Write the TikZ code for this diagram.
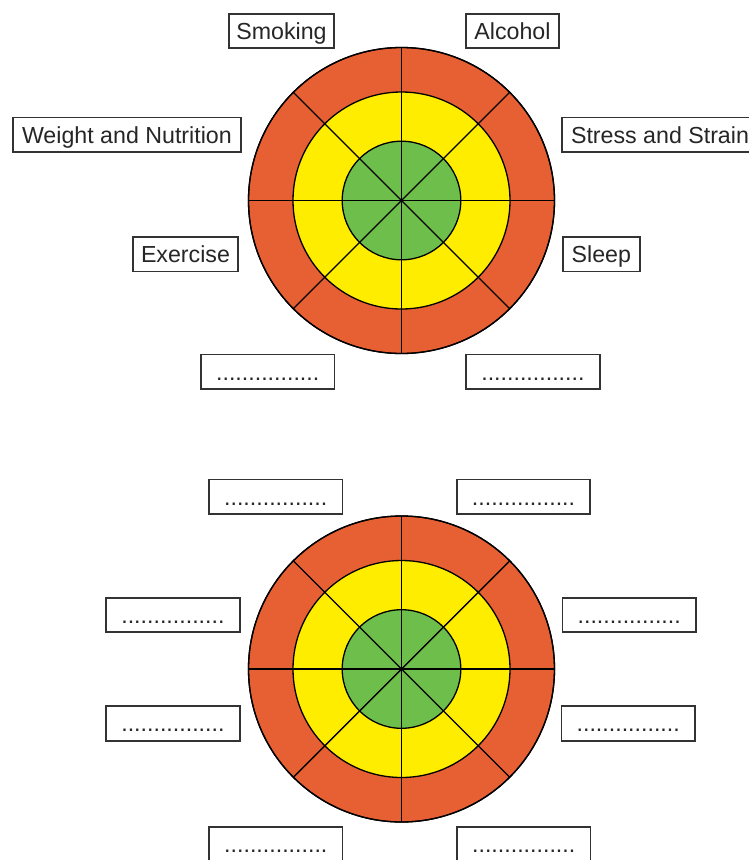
\documentclass[tikz,border=0pt]{standalone}
\usepackage{fontspec}
\setmainfont{Liberation Sans}
\definecolor{ringorange}{RGB}{231,96,52}
\definecolor{ringyellow}{RGB}{255,237,0}
\definecolor{ringgreen}{RGB}{109,190,75}
\definecolor{boxgray}{RGB}{51,51,51}
\tikzset{
  lbl/.style={draw=boxgray, line width=1.8pt, fill=white,
    font=\fontsize{23.2}{28}\selectfont, text=black!85,
    text height=16.6pt, text depth=0pt, inner xsep=0pt, inner ysep=0pt,
    minimum height=34.5pt},
  ring/.style={draw=black, line width=1.3pt},
  spoke/.style={draw=black, line width=1.4pt},
  wheel/.pic={
    \path[ring, fill=ringorange] (0,0) circle[radius=153pt];
    \path[ring, fill=ringyellow] (0,0) circle[radius=108.5pt];
    \path[ring, fill=ringgreen] (0,0) circle[radius=59.3pt];
    \foreach \a in {0,45,90,135}{
      \path[spoke] (\a:153pt) -- (\a+180:153pt);
    }
    \path[ring] (0,0) circle[radius=153pt];
  }
}
\newcommand{\dotsline}{................}
\begin{document}
\begin{tikzpicture}[x=1pt,y=-1pt]
\useasboundingbox (0,0) rectangle (748,860);
% wheels
\pic at (401.5,200.5) {wheel};
\pic at (401.5,669) {wheel};
% top wheel labels
\node[lbl, minimum width=105pt] (smoke) at (281.5,31) {Smoking};
\node[lbl, minimum width=93.5pt] (alc) at (512.5,31) {Alcohol};
\node[lbl, minimum width=228.5pt] (wn) at (126.9,134.7) {Weight and Nutrition};
\node[lbl, minimum width=196pt] (ss) at (660,134.7) {Stress and Strain};
\node[lbl, minimum width=104.5pt] (ex) at (185.5,254.2) {Exercise};
\node[lbl, minimum width=77pt] (sl) at (601.3,254.2) {Sleep};
\node[lbl, minimum width=133.5pt] (d1) at (267.7,371.7) {\dotsline};
\node[lbl, minimum width=133.5pt] (d2) at (532.9,371.7) {\dotsline};
% bottom wheel labels
\node[lbl, minimum width=133.5pt] (b1) at (275.7,496.8) {\dotsline};
\node[lbl, minimum width=133.5pt] (b2) at (523.5,496.8) {\dotsline};
\node[lbl, minimum width=133.5pt] (b3) at (172.9,615) {\dotsline};
\node[lbl, minimum width=133.5pt] (b4) at (629.2,615) {\dotsline};
\node[lbl, minimum width=133.5pt] (b5) at (172.9,723.4) {\dotsline};
\node[lbl, minimum width=133.5pt] (b6) at (628.2,723.4) {\dotsline};
\node[lbl, minimum width=133.5pt] (b7) at (275.8,844) {\dotsline};
\node[lbl, minimum width=133.5pt] (b8) at (523.7,844) {\dotsline};
\end{tikzpicture}
\end{document}
